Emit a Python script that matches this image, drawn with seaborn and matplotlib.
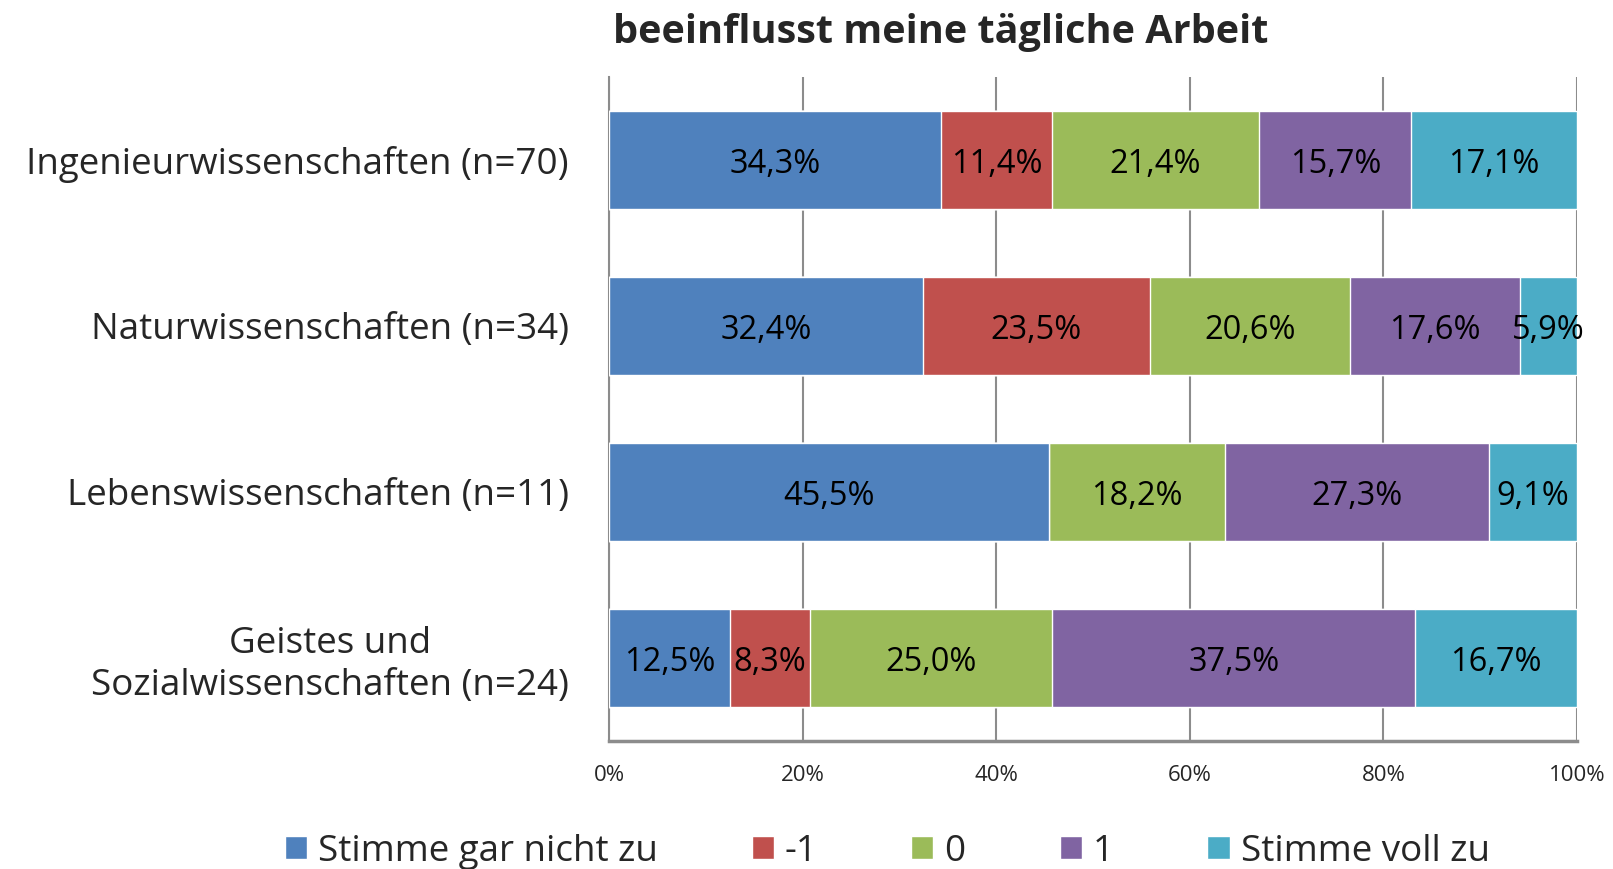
import numpy as np
import pandas as pd
import matplotlib.pyplot as plt
import seaborn as sns

# Data
categories = ['Ingenieurwissenschaften (n=70)', 'Naturwissenschaften (n=34)',
              'Lebenswissenschaften (n=11)', 'Geistes und\nSozialwissenschaften (n=24)']
answers = ['Stimme gar nicht zu', '-1', '0', '1', 'Stimme voll zu']
stimme_gar_nicht = [34.3, 32.4, 45.5, 12.5]
minus_eins = [11.4, 23.5, 0.0, 8.3]
null = [21.4, 20.6, 18.2, 25.0]
eins = [15.7, 17.6, 27.3, 37.5]
stimme_voll = [17.1, 5.9, 9.1, 16.7]
colors = ['#4F81BD', '#C0504D', '#9BBB59', '#8064A2', '#4BACC6']

sns.set_style('white')
plt.rcParams['font.family'] = ['Open Sans', 'DejaVu Sans']

vals = np.array([stimme_gar_nicht, minus_eins, null, eins, stimme_voll]).T
vals_norm = vals / vals.sum(axis=1, keepdims=True) * 100
cum = vals_norm.cumsum(axis=1)

fig = plt.figure(figsize=(16.13, 8.69), dpi=100)
ax = fig.add_axes([0.3776, 0.1473, 0.6001, 0.7641])

# stacked bars: draw cumulative totals from the last layer to the first
for i in reversed(range(len(answers))):
    df = pd.DataFrame({'cat': categories, 'val': cum[:, i]})
    sns.barplot(data=df, x='val', y='cat', color=colors[i], width=0.59,
                saturation=1, ax=ax, label=answers[i], zorder=3)

# data labels
for r in range(len(categories)):
    for i in range(len(answers)):
        if vals[r, i] == 0:
            continue
        xc = cum[r, i] - vals_norm[r, i] / 2
        ax.text(xc, r + 0.025, f'{vals[r, i]:.1f}%'.replace('.', ','), ha='center', va='center',
                fontsize=23.5, color='black', zorder=5)

ax.set_xlim(0, 100)
ax.set_ylim(3.5, -0.5)
ax.set_xticks(np.arange(0, 101, 20))
ax.set_xticklabels([f'{t}%' for t in range(0, 101, 20)], fontsize=16)
ax.set_xlabel('')
ax.set_ylabel('')
ax.tick_params(axis='y', which='major', length=0, labelsize=26.5, pad=29)
for lab in ax.get_yticklabels():
    lab.set_multialignment('center')
ax.set_yticks(np.arange(-0.5, 3.6, 1), minor=True)
ax.tick_params(axis='y', which='minor', length=12, width=1.5, color='#8c8c8c', direction='out')
ax.tick_params(axis='x', which='major', length=10, width=1.5, color='#8c8c8c',
               direction='out', pad=7)
ax.xaxis.grid(True, color='#8c8c8c', lw=1.5, zorder=0)
ax.set_axisbelow(True)
for s in ['top', 'right']:
    ax.spines[s].set_visible(False)
ax.spines['left'].set_color('#8c8c8c')
ax.spines['left'].set_linewidth(1.5)
ax.spines['bottom'].set_color('#8c8c8c')
ax.spines['bottom'].set_linewidth(2.5)
if ax.legend_:
    ax.legend_.remove()

fig.text(0.583, 0.963, 'beeinflusst meine tägliche Arbeit', ha='center', va='center',
         fontsize=28.5, fontweight='bold')

handles, labels = ax.get_legend_handles_labels()
order = [labels.index(a) for a in answers]
fig.legend([handles[k] for k in order], answers, loc='center', bbox_to_anchor=(0.55, 0.02),
           ncol=5, frameon=False, fontsize=26.5, handlelength=0.6, handleheight=0.6,
           handletextpad=0.3, columnspacing=2.55)

fig.savefig('out.png', dpi=100)
